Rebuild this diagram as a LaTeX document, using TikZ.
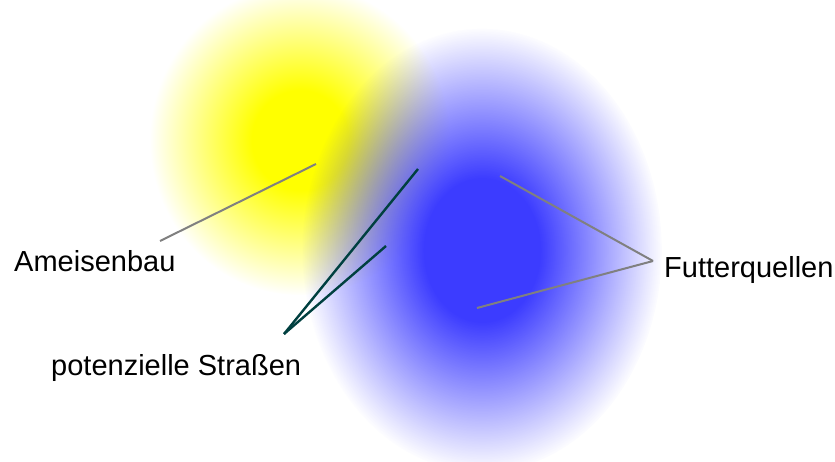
\documentclass[tikz,border=0pt]{standalone}
\usepackage{fontspec}
\setmainfont{Liberation Sans}
\usepackage{tikz}
\usetikzlibrary{fadings}

\definecolor{nestyellow}{RGB}{255,255,0}
\definecolor{foodblue}{RGB}{60,60,255}
\definecolor{roadteal}{RGB}{0,64,64}
\definecolor{pointergray}{RGB}{128,128,128}

% soft edged blob: solid core, fades out at the rim
\pgfdeclareradialshading{softshade}{\pgfpointorigin}{color(0bp)=(pgftransparent!0); color(8bp)=(pgftransparent!0); color(25bp)=(pgftransparent!100); color(50bp)=(pgftransparent!100)}
\pgfdeclarefading{softblob}{\pgfuseshading{softshade}}

\begin{document}
\begin{tikzpicture}[
    x=1pt, y=-1pt,
    blob/.style={path fading=softblob, fit fading=true},
    caption/.style={anchor=base west, inner sep=0pt, font=\fontsize{29}{32}\selectfont},
    pointer/.style={draw=pointergray, line width=2pt},
    road/.style={draw=roadteal, line width=2.4pt}
]
\fill[white] (0,0) rectangle (835,462);
\useasboundingbox (0,0) rectangle (835,462);

% Blobs: nest and food
\fill[nestyellow, blob] (300,140) ellipse [x radius=150, y radius=155];
\fill[foodblue, blob] (482,250) ellipse [x radius=180, y radius=222];

% Labels
\node[caption] (nest_txt) at (14,272) {Ameisenbau};
\node[caption] (food_txt) at (664,278) {Futterquellen};
\node[caption] (road_txt) at (51,375) {potenzielle Straßen};

% Line ends
\coordinate (nest_tail) at (160,241);
\coordinate (nest_tip) at (316,164);
\coordinate (food_tail) at (653,261);
\coordinate (food_tip_a) at (500,176);
\coordinate (food_tip_b) at (477,308);
\coordinate (road_tail) at (284,334);
\coordinate (road_tip_a) at (418,169);
\coordinate (road_tip_b) at (386,246);

% Connectors
\draw[pointer] (nest_tail) -- (nest_tip);
\draw[pointer] (food_tail) -- (food_tip_a);
\draw[pointer] (food_tail) -- (food_tip_b);
\draw[road] (road_tail) -- (road_tip_a);
\draw[road] (road_tail) -- (road_tip_b);

\end{tikzpicture}
\end{document}
